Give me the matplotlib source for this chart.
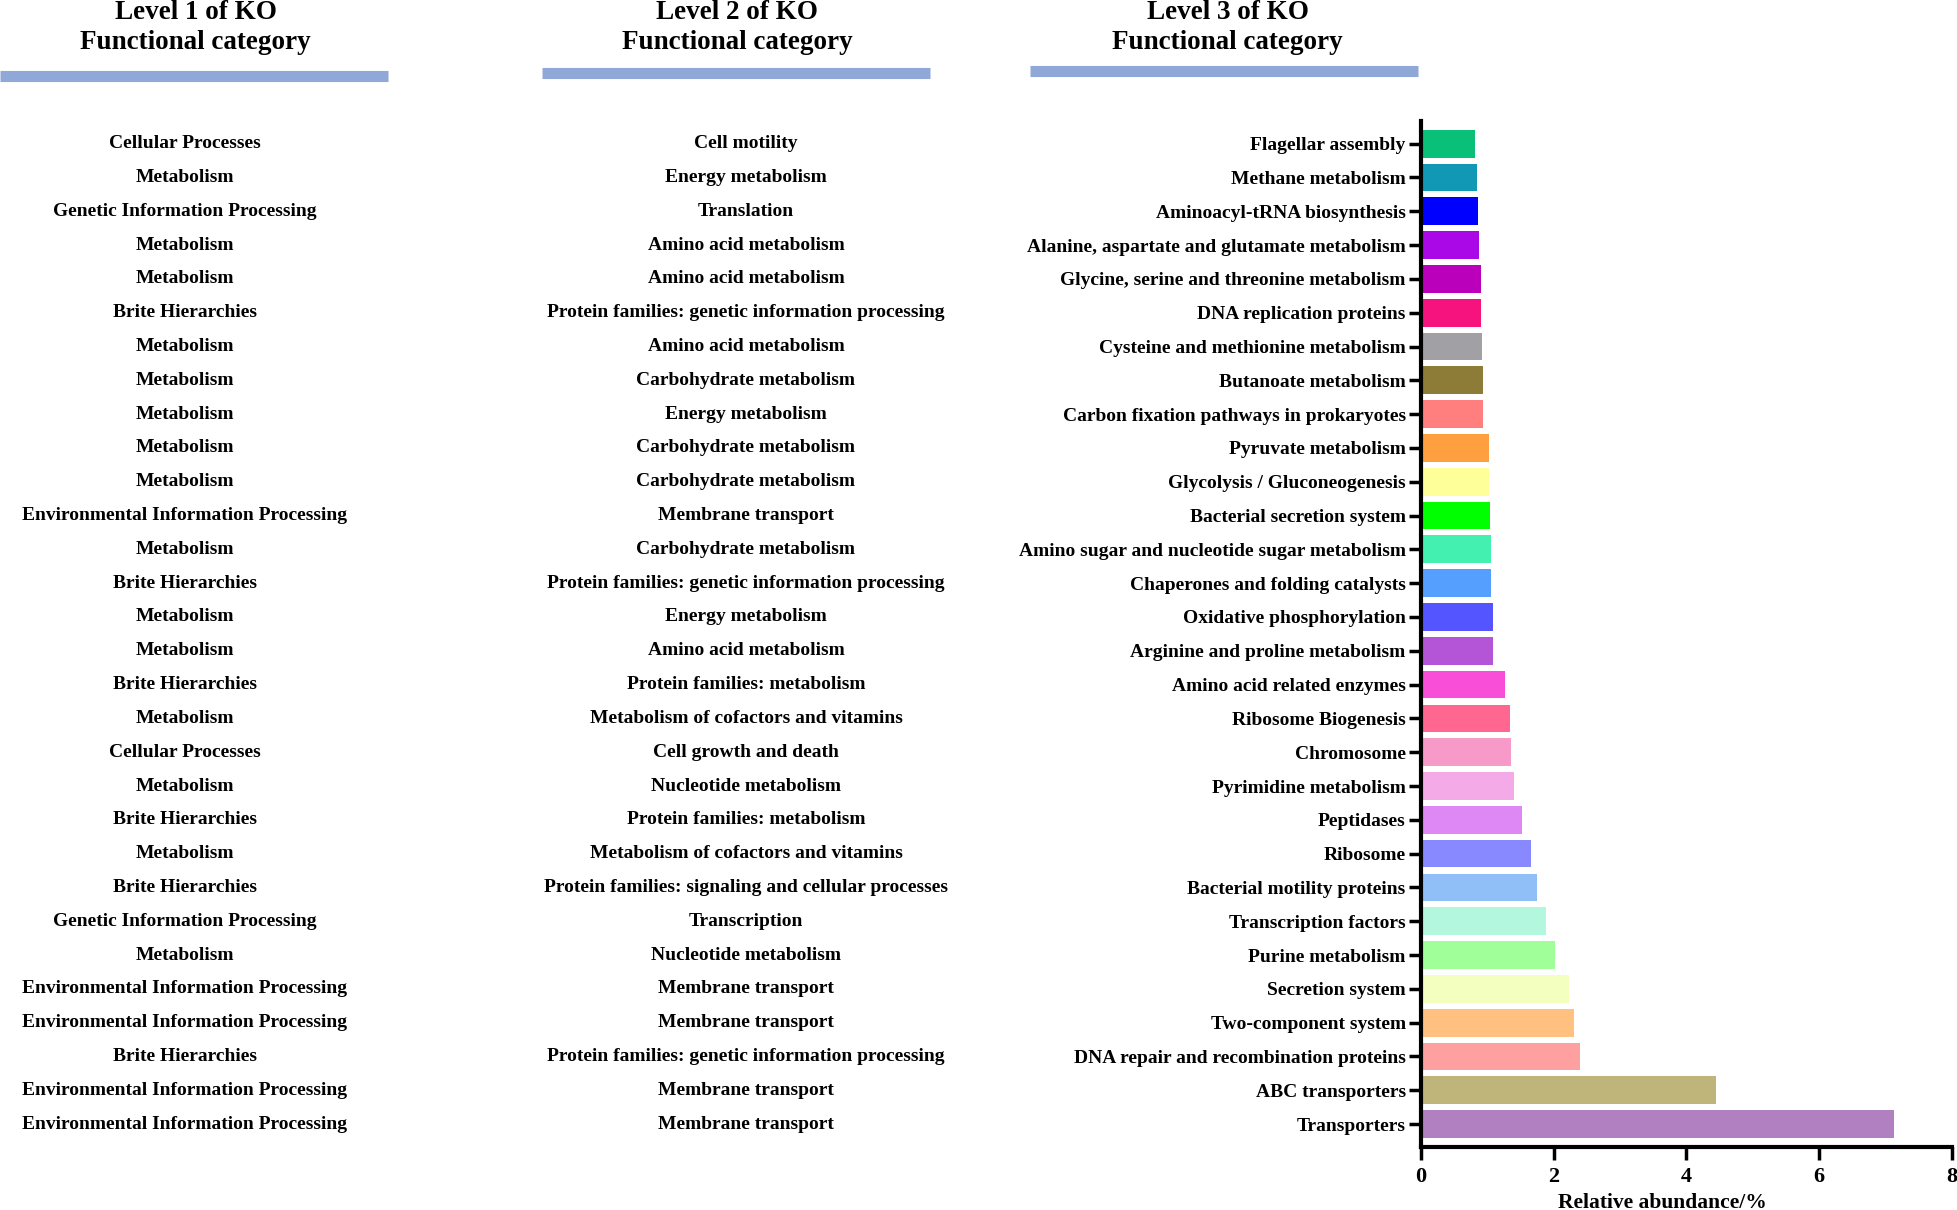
import matplotlib.pyplot as plt
from matplotlib.transforms import blended_transform_factory

# KO categories, top row first
level1 = ['Cellular Processes', 'Metabolism', 'Genetic Information Processing', 'Metabolism',
          'Metabolism', 'Brite Hierarchies', 'Metabolism', 'Metabolism', 'Metabolism',
          'Metabolism', 'Metabolism', 'Environmental Information Processing', 'Metabolism',
          'Brite Hierarchies', 'Metabolism', 'Metabolism', 'Brite Hierarchies', 'Metabolism',
          'Cellular Processes', 'Metabolism', 'Brite Hierarchies', 'Metabolism',
          'Brite Hierarchies', 'Genetic Information Processing', 'Metabolism',
          'Environmental Information Processing', 'Environmental Information Processing',
          'Brite Hierarchies', 'Environmental Information Processing',
          'Environmental Information Processing']

level2 = ['Cell motility', 'Energy metabolism', 'Translation', 'Amino acid metabolism',
          'Amino acid metabolism', 'Protein families: genetic information processing',
          'Amino acid metabolism', 'Carbohydrate metabolism', 'Energy metabolism',
          'Carbohydrate metabolism', 'Carbohydrate metabolism', 'Membrane transport',
          'Carbohydrate metabolism', 'Protein families: genetic information processing',
          'Energy metabolism', 'Amino acid metabolism', 'Protein families: metabolism',
          'Metabolism of cofactors and vitamins', 'Cell growth and death',
          'Nucleotide metabolism', 'Protein families: metabolism',
          'Metabolism of cofactors and vitamins',
          'Protein families: signaling and cellular processes', 'Transcription',
          'Nucleotide metabolism', 'Membrane transport', 'Membrane transport',
          'Protein families: genetic information processing', 'Membrane transport',
          'Membrane transport']

level3 = ['Flagellar assembly', 'Methane metabolism', 'Aminoacyl-tRNA biosynthesis',
          'Alanine, aspartate and glutamate metabolism',
          'Glycine, serine and threonine metabolism', 'DNA replication proteins',
          'Cysteine and methionine metabolism', 'Butanoate metabolism',
          'Carbon fixation pathways in prokaryotes', 'Pyruvate metabolism',
          'Glycolysis / Gluconeogenesis', 'Bacterial secretion system',
          'Amino sugar and nucleotide sugar metabolism', 'Chaperones and folding catalysts',
          'Oxidative phosphorylation', 'Arginine and proline metabolism',
          'Amino acid related enzymes', 'Ribosome Biogenesis', 'Chromosome',
          'Pyrimidine metabolism', 'Peptidases', 'Ribosome', 'Bacterial motility proteins',
          'Transcription factors', 'Purine metabolism', 'Secretion system',
          'Two-component system', 'DNA repair and recombination proteins',
          'ABC transporters', 'Transporters']

abundance = [0.81, 0.85, 0.86, 0.88, 0.91, 0.91, 0.92, 0.94, 0.94, 1.02,
             1.03, 1.04, 1.05, 1.06, 1.09, 1.09, 1.27, 1.34, 1.35, 1.40,
             1.53, 1.66, 1.75, 1.89, 2.02, 2.23, 2.31, 2.39, 4.45, 7.12]

colors = ['#0abf78', '#1098b5', '#0000ff', '#aa08e6', '#bb00bb', '#f7137e', '#a0a0a5',
          '#8c7c38', '#ff7f7f', '#ffa040', '#ffff99', '#00ff00', '#44f0b0', '#55a0ff',
          '#5555ff', '#b455d8', '#f84ed8', '#ff6690', '#f89ac8', '#f5aae8', '#dd88f5',
          '#8888ff', '#90bff8', '#b3f7de', '#a0ff99', '#f2ffbf', '#ffc080', '#ffa0a0',
          '#bfb47a', '#b080c0']

plt.rcParams['font.family'] = 'Liberation Serif'
plt.rcParams['font.weight'] = 'bold'

fig = plt.figure(figsize=(19.58, 12.10), dpi=100)
ax = fig.add_axes([0.7257, 0.052, 0.2712, 0.848])

y = list(range(len(level3)))
ax.barh(y, abundance, height=0.82, color=colors, linewidth=0)
ax.set_ylim(len(level3) - 1 + 0.68, -0.67)
ax.set_xlim(0, 8)
ax.set_xticks([0, 2, 4, 6, 8])
ax.set_yticks(y)
ax.set_yticklabels(level3, fontsize=14, fontweight='bold')
ax.tick_params(axis='y', length=9, width=2.5, pad=2)
ax.tick_params(axis='x', length=9, width=2.5, pad=5, labelsize=16)
for s in ['top', 'right']:
    ax.spines[s].set_visible(False)
for s in ['left', 'bottom']:
    ax.spines[s].set_linewidth(3)
ax.set_xlabel('Relative abundance/%', fontsize=15.5, fontweight='bold')
ax.xaxis.set_label_coords(0.454, -0.045)

# Level 1 and Level 2 columns aligned with the bars
trans = blended_transform_factory(fig.transFigure, ax.transData)
for i in y:
    fig.text(0.0945, i, level1[i], transform=trans, ha='center', va='center',
             fontsize=14, fontweight='bold')
    fig.text(0.381, i, level2[i], transform=trans, ha='center', va='center',
             fontsize=14, fontweight='bold')

# headers with blue underline bars
headers = ['Level 1 of KO\nFunctional category', 'Level 2 of KO\nFunctional category',
           'Level 3 of KO\nFunctional category']
head_x = [0.100, 0.3765, 0.627]
bar_spans = [(0.0, 0.198, 0.937), (0.277, 0.475, 0.940), (0.526, 0.724, 0.941)]
for t, hx, (x0, x1, yb) in zip(headers, head_x, bar_spans):
    fig.text(hx, 0.9775, t, ha='center', va='center', fontsize=19.5,
             fontweight='bold', linespacing=1.25)
    fig.add_artist(plt.Line2D([x0, x1], [yb, yb], color='#8fa8d8', lw=8,
                              solid_capstyle='butt', transform=fig.transFigure))

fig.savefig('out.png', dpi=100)
